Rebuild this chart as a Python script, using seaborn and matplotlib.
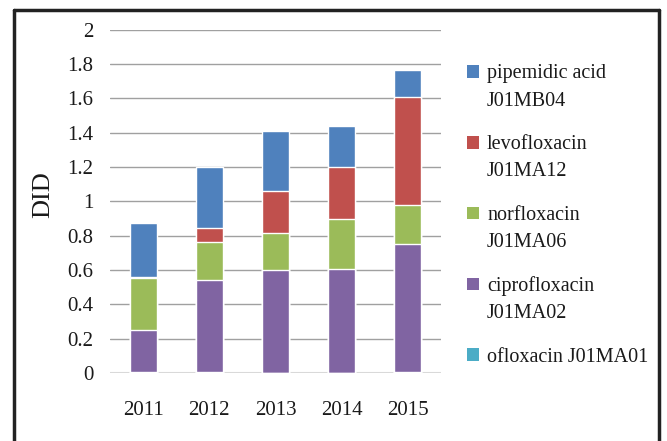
import numpy as np
import pandas as pd
import seaborn as sns
import matplotlib.pyplot as plt
from matplotlib.lines import Line2D
from matplotlib.patches import Patch, Rectangle
from matplotlib.legend_handler import HandlerPatch

# Data (DID per year, per substance)
years = ["2011", "2012", "2013", "2014", "2015"]
ofloxacin = [0.005, 0.005, 0.0, 0.002, 0.005]
ciprofloxacin = [0.245, 0.538, 0.601, 0.605, 0.747]
norfloxacin = [0.304, 0.221, 0.215, 0.290, 0.227]
levofloxacin = [0.004, 0.081, 0.244, 0.303, 0.626]
pipemidic = [0.314, 0.355, 0.349, 0.238, 0.159]

labels = ["ofloxacin J01MA01", "ciprofloxacin\nJ01MA02", "norfloxacin\nJ01MA06",
          "levofloxacin\nJ01MA12", "pipemidic acid\nJ01MB04"]
colors = ["#4BACC6", "#8064A2", "#9BBB59", "#C0504D", "#4F81BD"]

sns.set_style("white")
plt.rcParams["font.family"] = ["Liberation Serif", "DejaVu Serif"]

LEG_FS = 14.5


def first_line_square(legend, orig_handle, xdescent, ydescent, width, height, fontsize):
    """ Square handle lined up with the first line of a two-line label """
    shift = 0.78 * fontsize if "\n" in orig_handle.get_label() else 0.0
    return Rectangle((-xdescent, -ydescent + shift), width, height)


fig = plt.figure(figsize=(6.67, 4.41), dpi=100)
ax = fig.add_axes([0.165, 0.154, 0.496, 0.779])

series = [ofloxacin, ciprofloxacin, norfloxacin, levofloxacin, pipemidic]
cum = np.cumsum(np.array(series), axis=0)

# draw cumulative totals from the top of the stack down
for i in range(len(series) - 1, -1, -1):
    df = pd.DataFrame({"year": years, "val": cum[i]})
    sns.barplot(data=df, x="year", y="val", color=colors[i], saturation=1,
                width=0.41, ax=ax, zorder=3)

ax.set_ylim(0, 2)
ax.set_yticks(np.arange(0, 2.01, 0.2))
ax.set_yticklabels(["0", "0.2", "0.4", "0.6", "0.8", "1", "1.2", "1.4", "1.6", "1.8", "2"])
ax.yaxis.grid(True, color="#A0A0A0", linewidth=1.0, zorder=0)
ax.set_axisbelow(True)
for s in ax.spines.values():
    s.set_visible(False)
ax.axhline(0, color="#D9D9D9", linewidth=1.5, zorder=2)
ax.tick_params(axis="both", length=0, labelsize=15, colors="#1a1a1a")
ax.tick_params(axis="y", pad=12)
ax.tick_params(axis="x", pad=20)
ax.set_xlabel("")
ax.set_ylabel("DID", fontsize=19, color="#1a1a1a")
ax.yaxis.set_label_coords(-0.17, 0.52)

# legend, top of stack first
handles = [Patch(facecolor=colors[i], edgecolor="none", label=labels[i]) for i in range(4, -1, -1)]
leg_labels = [labels[i] for i in range(4, -1, -1)]
leg = fig.legend(handles, leg_labels, loc="upper left", bbox_to_anchor=(0.700, 0.854),
                 frameon=False, fontsize=LEG_FS, handlelength=0.6, handleheight=0.6,
                 handletextpad=0.4, labelspacing=1.2, borderpad=0, borderaxespad=0,
                 handler_map={Patch: HandlerPatch(patch_func=first_line_square)})
for t in leg.get_texts():
    t.set_linespacing(1.6)
    t.set_color("#1a1a1a")

# outer frame of the figure
fig.add_artist(Line2D([0.021, 0.021], [0.0, 0.978], color="#222222", lw=2.5))
fig.add_artist(Line2D([0.021, 0.988], [0.978, 0.978], color="#222222", lw=2.5))
fig.add_artist(Line2D([0.988, 0.988], [0.0, 0.978], color="#222222", lw=2.5))

fig.savefig("out.png", dpi=100)
